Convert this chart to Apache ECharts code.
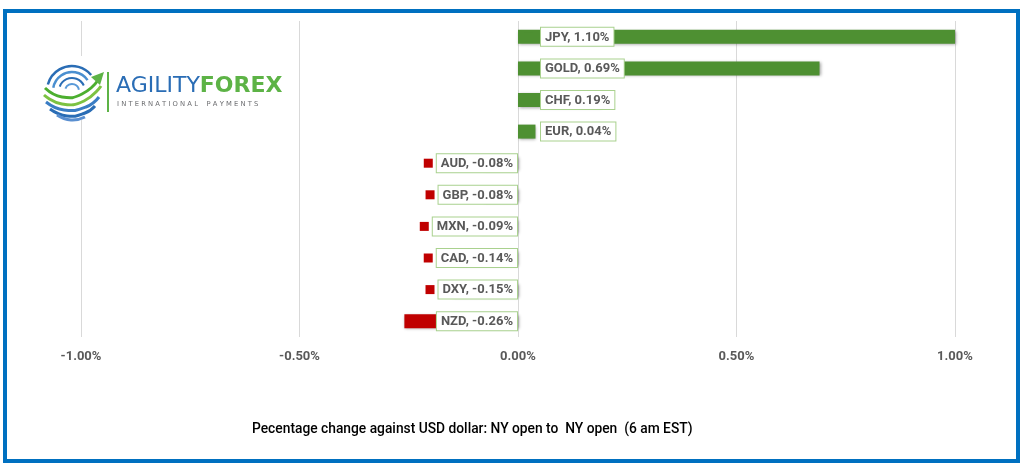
<!DOCTYPE html>
<html>
<head>
<meta charset="utf-8">
<script src="https://cdn.jsdelivr.net/npm/echarts@6/dist/echarts.min.js"></script>
<style>
html,body{margin:0;padding:0;background:#fff;}
#c{width:1024px;height:464px;}
</style>
</head>
<body>
<div id="c"></div>
<script>
const categories = ['JPY','GOLD','CHF','EUR','AUD','GBP','MXN','CAD','DXY','NZD'];
const values = [1.10, 0.69, 0.19, 0.04, -0.08, -0.08, -0.09, -0.14, -0.15, -0.26];
const xTicks = [-1.00, -0.50, 0.00, 0.50, 1.00];
const footerText = 'Pecentage change against USD dollar: NY open to  NY open  (6 am EST)';

const GREEN = '#4e9032';
const RED = '#c00000';
const FONT = 'Roboto';

const chart = echarts.init(document.getElementById('c'), null, {renderer:'canvas'});

const labelPoints = categories.map((c, i) => {
  const v = values[i];
  const pos = v >= 0;
  return {
    value: [0, c],
    itemStyle: {opacity: 1},
    label: {
      show: true,
      position: pos ? 'right' : 'left',
      distance: pos ? 6 : 1,
      formatter: '{k|}{s|}{b|' + c + ', ' + v.toFixed(2) + '%}',
      rich: {
        k: {width: 9, height: 9, backgroundColor: pos ? GREEN : RED, verticalAlign: 'middle'},
        s: {width: pos ? 8 : 4, height: 9, verticalAlign: 'middle'},
        b: {
          fontFamily: FONT, fontSize: 13, fontWeight: 'bold', color: '#595959',
          backgroundColor: '#fff', borderColor: '#a9d18e', borderWidth: 1,
          padding: [3, 4, 2, 4], verticalAlign: 'middle', lineHeight: 15
        }
      }
    }
  };
});

// logo globe
const logoEls = [];
const cx = 72, cy = 91;
const arcDefs = [
  [25, 195, 320, '#2a6db5', 2.5], [19, 190, 325, '#4a8fd0', 2.5], [13, 200, 335, '#2a6db5', 2],
  [7, 200, 350, '#5a9ad8', 2]
];
arcDefs.forEach(a => {
  logoEls.push({type:'arc', z:101, shape:{cx:cx, cy:cy, r:a[0], startAngle:a[1]*Math.PI/180, endAngle:a[2]*Math.PI/180}, style:{stroke:a[3], lineWidth:a[4], fill:null}});
});
const stripes = [
  [[45,88],[62,97],[82,94],[99,79]], [[44,95],[62,104],[84,101],[101,86]],
  [[46,102],[64,110],[86,107],[99,97]], [[50,109],[67,116],[85,113],[95,106]],
  [[57,115],[71,120],[85,117]]
];
const stripeCols = ['#4caf2f','#7cc242','#3a7dc4','#2a6db5','#5a8fd0'];
stripes.forEach((p, i) => {
  logoEls.push({type:'polyline', z:101, shape:{points:p, smooth:0.5}, style:{stroke:stripeCols[i], lineWidth:3, fill:null}});
});
logoEls.push({type:'polygon', z:101, shape:{points:[[91,77],[104,72],[100,85]]}, style:{fill:'#5db346'}});

const option = {
  animation: false,
  backgroundColor: '#fff',
  grid: {left: 81, right: 69, top: 21, bottom: 127, containLabel: false},
  xAxis: {
    type: 'value', min: -1, max: 1, interval: 0.5,
    axisLine: {show: false}, axisTick: {show: false},
    splitLine: {show: true, lineStyle: {color: '#d9d9d9', width: 1}},
    axisLabel: {
      margin: 13, color: '#595959', fontFamily: FONT, fontSize: 13, fontWeight: 'bold',
      formatter: v => v.toFixed(2) + '%'
    }
  },
  yAxis: {
    type: 'category', data: categories, inverse: true,
    axisLine: {show: false}, axisTick: {show: false}, axisLabel: {show: false},
    splitLine: {show: false}
  },
  series: [
    {
      type: 'bar', data: values.map(v => ({value: v, itemStyle: {color: v >= 0 ? GREEN : RED}})),
      barWidth: 14, clip: true,
      itemStyle: {shadowBlur: 3, shadowColor: 'rgba(0,0,0,0.35)', shadowOffsetX: 1, shadowOffsetY: 1},
      z: 2
    },
    {
      type: 'scatter', symbolSize: 0, data: labelPoints, z: 5, silent: true,
      itemStyle: {opacity: 1}
    }
  ],
  graphic: [
    {type:'rect', z:100, shape:{x:36, y:56, width:256, height:64}, style:{fill:'#fff'}},
    ...logoEls,
    {type:'rect', z:101, shape:{x:107, y:72, width:2, height:40}, style:{fill:'#5db346'}},
    {type:'text', z:101, x:116, y:75, style:{
      text:'{a|AGILITY}{f|FOREX}',
      rich:{
        a:{fontFamily:'DejaVu Sans', fontSize:22, fontWeight:'normal', fill:'#2a6db5'},
        f:{fontFamily:'DejaVu Sans', fontSize:22, fontWeight:'bold', fill:'#5db346'}
      }
    }},
    {type:'text', z:101, x:117, y:101, style:{
      text:'I N T E R N A T I O N A L    P A Y M E N T S', fontFamily:'DejaVu Sans', fontSize:6.8, fill:'#6d6e71'
    }},
    {type:'text', z:50, x:252, y:423, style:{
      text: footerText, fontFamily: FONT, fontSize: 13.8, fontWeight: 500, fill: '#000'
    }},
    {type:'rect', z:200, shape:{x:5, y:11, width:1013, height:450}, style:{fill:null, stroke:'#0070c0', lineWidth:4}}
  ]
};
chart.setOption(option);
</script>
</body>
</html>
